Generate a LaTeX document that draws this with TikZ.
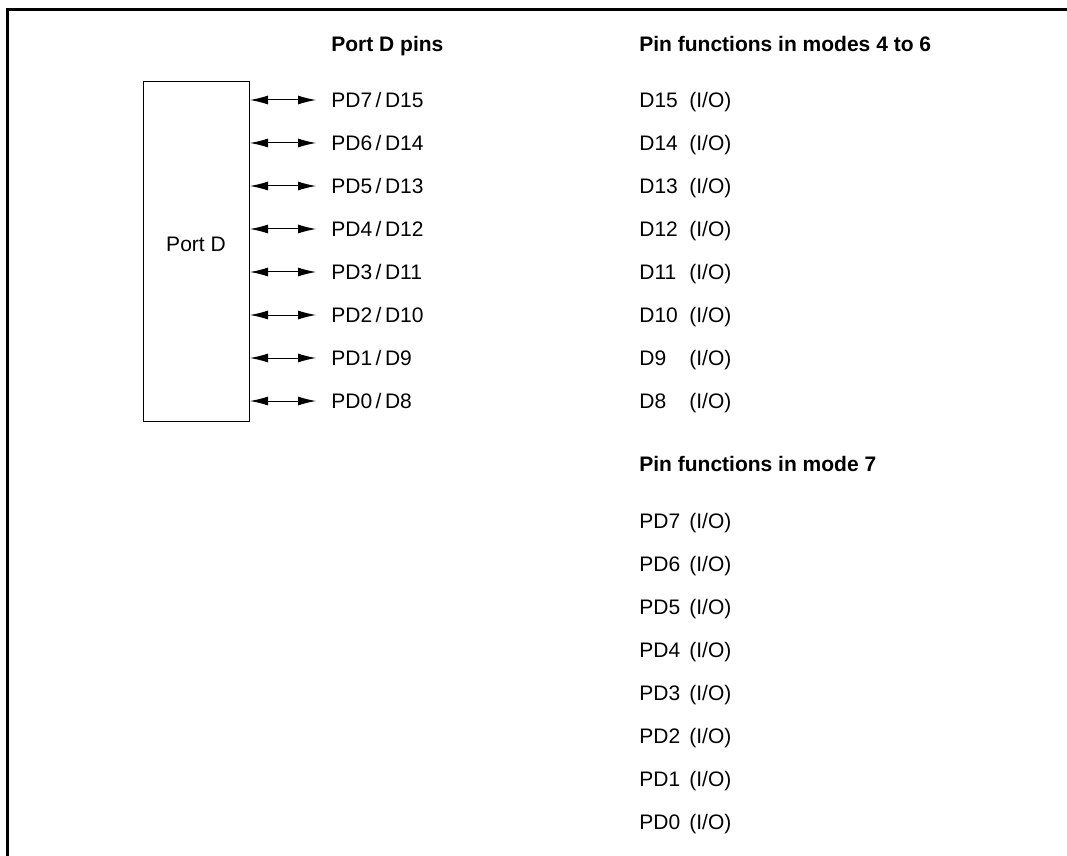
\documentclass[tikz,border=0pt]{standalone}
\usepackage{fontspec}
\setmainfont{Liberation Sans}
\usetikzlibrary{arrows.meta,positioning}

\begin{document}
\begin{tikzpicture}[
  x=0.5pt, y=-0.5pt,
  pinlabel/.style={anchor=west, inner sep=0pt, text height=7.5pt, text depth=0pt,
                   font=\fontsize{10.5}{12}\selectfont},
  header/.style={pinlabel, font=\fontsize{10.5}{12}\selectfont\bfseries},
  pinarrow/.style={{Latex[length=9pt,width=4.5pt]}-{Latex[length=9pt,width=4.5pt]}, line width=0.5pt},
]
  \useasboundingbox (0,0) rectangle (1067,856);
  \fill[white] (0,0) rectangle (1067,856);

  % Frame
  \draw[line width=1.5pt] (7,856) |- (1067,10);

  % Headers
  \node[header] (hpins) at (331,44) {Port D pins};
  \node[header] (hmodeA) at (639,44) {Pin functions in modes 4 to 6};
  \node[header] (hmodeB) at (639,464) {Pin functions in mode 7};

  % Port block
  \node[draw, line width=0.5pt, inner sep=0pt, anchor=north west,
        minimum width=53pt, minimum height=170pt] (portd) at (143,81) {};
  \node[pinlabel, anchor=center] (portdlab) at (196,244) {Port D};

  % Pins
  \foreach \i/\d in {7/15, 6/14, 5/13, 4/12, 3/11, 2/10, 1/9, 0/8} {
    \node[pinlabel] (pin\i) at (331, {100+(7-\i)*43}) {PD\i\,/\,D\d};
    \draw[pinarrow] (portd.east |- pin\i.west) -- ([xshift=-7.5pt]pin\i.west);
    \node[pinlabel] (fnA\i) at (639, {100+(7-\i)*43}) {D\d};
    \node[pinlabel] (ioA\i) at (689, {100+(7-\i)*43}) {(I/O)};
    \node[pinlabel] (fnB\i) at (639, {521+(7-\i)*43}) {PD\i};
    \node[pinlabel] (ioB\i) at (689, {521+(7-\i)*43}) {(I/O)};
  }
\end{tikzpicture}
\end{document}
